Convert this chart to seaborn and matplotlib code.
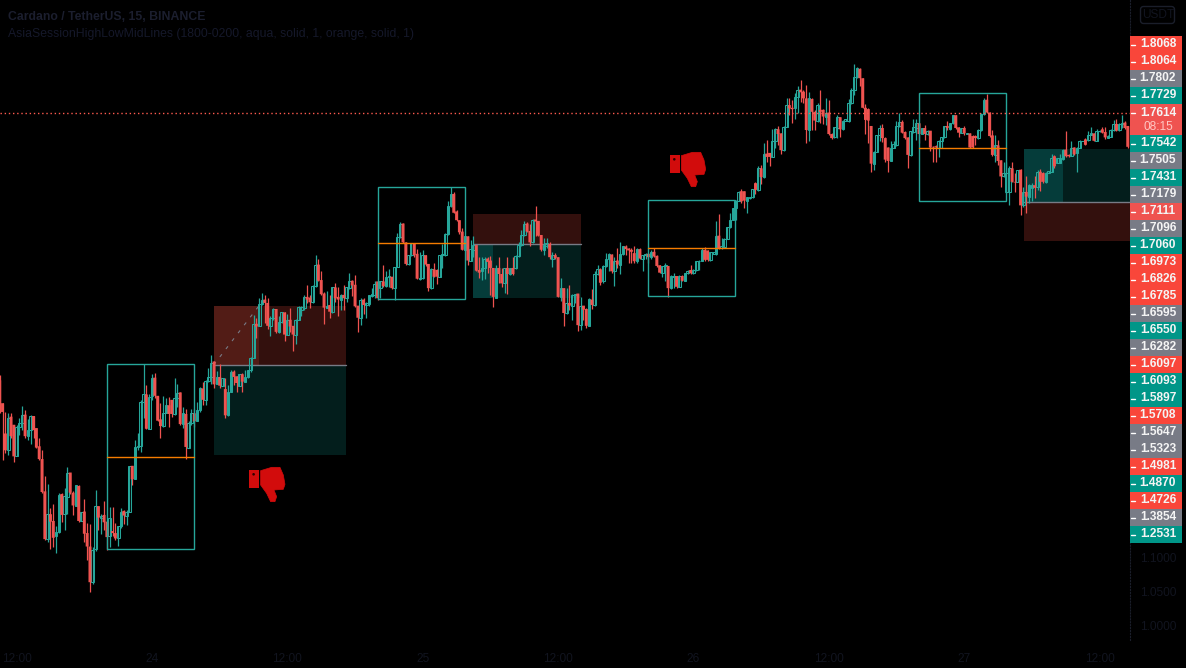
import numpy as np
import pandas as pd
import matplotlib
matplotlib.use("Agg")
import matplotlib.pyplot as plt
from matplotlib.patches import Rectangle, Polygon, Circle, FancyBboxPatch
import seaborn as sns

# 15 min candles
opens = [
1.364,1.330,1.285,1.260,1.310,1.298,1.252,1.294,1.301,1.313,
1.281,1.290,1.311,1.293,1.266,1.247,1.199,1.128,1.165,1.155,
1.133,1.138,1.195,1.166,1.191,1.227,1.197,1.177,1.207,1.155,
1.169,1.137,1.117,1.064,1.113,1.177,1.160,1.164,1.154,1.132,
1.140,1.137,1.129,1.148,1.170,1.163,1.169,1.237,1.218,1.265,
1.266,1.332,1.343,1.292,1.340,1.368,1.341,1.306,1.296,1.316,
1.327,1.335,1.314,1.337,1.346,1.299,1.314,1.264,1.300,1.315,
1.303,1.320,1.352,1.335,1.363,1.369,1.392,1.359,1.369,1.356,
1.351,1.312,1.346,1.377,1.370,1.355,1.373,1.362,1.369,1.379,
1.397,1.448,1.445,1.477,1.484,1.479,1.445,1.456,1.470,1.436,
1.451,1.465,1.432,1.454,1.445,1.432,1.454,1.469,1.471,1.488,
1.487,1.480,1.504,1.536,1.513,1.493,1.472,1.476,1.466,1.502,
1.488,1.484,1.491,1.486,1.501,1.512,1.506,1.475,1.457,1.484,
1.476,1.477,1.490,1.491,1.511,1.501,1.511,1.504,1.518,1.518,
1.501,1.533,1.577,1.597,1.569,1.537,1.550,1.568,1.552,1.515,
1.516,1.550,1.537,1.501,1.529,1.528,1.518,1.550,1.550,1.582,
1.623,1.641,1.615,1.602,1.585,1.558,1.578,1.542,1.558,1.565,
1.528,1.526,1.531,1.545,1.542,1.531,1.487,1.531,1.522,1.508,
1.531,1.522,1.531,1.531,1.549,1.565,1.580,1.597,1.586,1.569,
1.603,1.601,1.580,1.558,1.564,1.567,1.545,1.550,1.547,1.488,
1.501,1.464,1.479,1.475,1.491,1.493,1.446,1.475,1.470,1.445,
1.484,1.476,1.522,1.529,1.511,1.534,1.544,1.551,1.526,1.542,
1.536,1.551,1.563,1.560,1.558,1.553,1.541,1.559,1.545,1.550,
1.552,1.547,1.555,1.549,1.535,1.524,1.534,1.534,1.501,1.518,
1.519,1.503,1.519,1.512,1.524,1.528,1.523,1.528,1.541,1.542,
1.558,1.557,1.543,1.552,1.552,1.579,1.560,1.562,1.574,1.592,
1.602,1.620,1.631,1.645,1.645,1.631,1.635,1.636,1.657,1.647,
1.679,1.666,1.701,1.702,1.696,1.719,1.737,1.731,1.706,1.741,
1.773,1.769,1.768,1.785,1.796,1.793,1.783,1.736,1.782,1.763,
1.750,1.766,1.766,1.756,1.762,1.730,1.725,1.739,1.755,1.737,
1.750,1.750,1.776,1.796,1.815,1.827,1.813,1.769,1.767,1.742,
1.686,1.704,1.728,1.739,1.724,1.710,1.690,1.710,1.714,1.742,
1.748,1.733,1.725,1.699,1.733,1.739,1.746,1.730,1.739,1.730,
1.735,1.711,1.712,1.710,1.719,1.725,1.742,1.738,1.746,1.758,
1.740,1.732,1.739,1.730,1.731,1.727,1.727,1.724,1.736,1.760,
1.781,1.762,1.728,1.699,1.713,1.691,1.667,1.644,1.644,1.679,
1.659,1.659,1.677,1.624,1.644,1.637,1.650,1.654,1.652,1.674,
1.672,1.658,1.672,1.674,1.697,1.687,1.687,1.693,1.707,1.699,
1.698,1.710,1.702,1.710,1.719,1.722,1.721,1.729,1.731,1.720,
1.734,1.737,1.733,1.724,1.726,1.736,1.745,1.736,1.745,1.747,
1.742]

closes = [
1.317,1.317,1.260,1.308,1.281,1.251,1.294,1.301,1.313,1.281,
1.290,1.311,1.290,1.264,1.247,1.198,1.128,1.165,1.154,1.130,
1.139,1.194,1.164,1.192,1.227,1.197,1.178,1.208,1.155,1.169,
1.136,1.117,1.064,1.112,1.177,1.160,1.163,1.153,1.131,1.160,
1.137,1.129,1.148,1.169,1.163,1.169,1.237,1.217,1.265,1.266,
1.332,1.343,1.292,1.339,1.368,1.341,1.304,1.296,1.316,1.327,
1.314,1.314,1.337,1.345,1.299,1.315,1.265,1.300,1.315,1.303,
1.320,1.352,1.335,1.363,1.369,1.390,1.358,1.369,1.356,1.367,
1.312,1.346,1.377,1.369,1.360,1.373,1.362,1.369,1.379,1.397,
1.448,1.444,1.477,1.484,1.479,1.445,1.456,1.470,1.436,1.451,
1.465,1.432,1.454,1.444,1.432,1.454,1.473,1.473,1.488,1.484,
1.480,1.504,1.536,1.512,1.492,1.472,1.474,1.466,1.502,1.486,
1.484,1.491,1.486,1.502,1.512,1.505,1.474,1.457,1.484,1.476,
1.479,1.491,1.492,1.507,1.486,1.511,1.504,1.518,1.519,1.501,
1.533,1.577,1.597,1.569,1.537,1.550,1.568,1.550,1.515,1.516,
1.550,1.536,1.501,1.529,1.518,1.518,1.550,1.551,1.582,1.623,
1.641,1.613,1.602,1.584,1.558,1.578,1.542,1.559,1.565,1.527,
1.524,1.531,1.545,1.540,1.531,1.488,1.531,1.522,1.508,1.531,
1.522,1.531,1.522,1.549,1.565,1.580,1.597,1.585,1.569,1.603,
1.600,1.579,1.558,1.565,1.568,1.547,1.550,1.546,1.488,1.501,
1.464,1.479,1.475,1.491,1.493,1.446,1.475,1.469,1.445,1.485,
1.476,1.522,1.529,1.509,1.534,1.544,1.551,1.526,1.542,1.536,
1.551,1.563,1.559,1.557,1.555,1.541,1.559,1.545,1.550,1.552,
1.547,1.555,1.548,1.534,1.524,1.534,1.535,1.501,1.519,1.519,
1.503,1.519,1.512,1.524,1.526,1.523,1.528,1.542,1.542,1.558,
1.543,1.543,1.554,1.554,1.579,1.560,1.563,1.574,1.592,1.602,
1.620,1.631,1.644,1.630,1.631,1.636,1.636,1.648,1.647,1.679,
1.666,1.701,1.696,1.696,1.720,1.737,1.730,1.706,1.741,1.773,
1.768,1.767,1.785,1.796,1.792,1.783,1.736,1.783,1.763,1.750,
1.773,1.763,1.756,1.762,1.730,1.724,1.740,1.755,1.737,1.750,
1.752,1.776,1.796,1.815,1.828,1.813,1.769,1.751,1.750,1.686,
1.704,1.729,1.739,1.724,1.692,1.690,1.710,1.715,1.742,1.748,
1.732,1.724,1.699,1.734,1.740,1.746,1.730,1.739,1.730,1.735,
1.710,1.710,1.710,1.720,1.725,1.742,1.739,1.746,1.758,1.739,
1.732,1.739,1.731,1.731,1.710,1.710,1.724,1.736,1.760,1.781,
1.762,1.727,1.699,1.713,1.690,1.667,1.672,1.672,1.679,1.659,
1.658,1.676,1.624,1.644,1.637,1.654,1.654,1.650,1.674,1.659,
1.659,1.672,1.675,1.694,1.682,1.694,1.694,1.707,1.697,1.697,
1.710,1.700,1.710,1.720,1.720,1.714,1.729,1.731,1.720,1.734,
1.735,1.732,1.725,1.727,1.736,1.745,1.735,1.745,1.746,1.739,
1.711]

highs = [
1.372,1.330,1.317,1.315,1.316,1.298,1.298,1.308,1.326,1.320,
1.306,1.313,1.311,1.293,1.279,1.260,1.222,1.210,1.174,1.180,
1.147,1.196,1.196,1.204,1.235,1.227,1.199,1.208,1.208,1.169,
1.188,1.152,1.151,1.117,1.201,1.177,1.166,1.185,1.154,1.176,
1.176,1.152,1.148,1.175,1.171,1.171,1.237,1.237,1.275,1.285,
1.335,1.389,1.357,1.343,1.373,1.375,1.341,1.330,1.340,1.337,
1.339,1.335,1.368,1.359,1.347,1.325,1.321,1.303,1.322,1.322,
1.332,1.354,1.362,1.364,1.383,1.402,1.392,1.378,1.389,1.367,
1.367,1.357,1.379,1.379,1.370,1.373,1.375,1.379,1.380,1.399,
1.461,1.456,1.486,1.494,1.491,1.486,1.459,1.471,1.470,1.459,
1.466,1.466,1.463,1.471,1.445,1.455,1.475,1.474,1.491,1.506,
1.491,1.506,1.550,1.545,1.526,1.495,1.497,1.491,1.503,1.508,
1.502,1.493,1.506,1.502,1.523,1.513,1.521,1.475,1.486,1.486,
1.481,1.491,1.501,1.511,1.511,1.511,1.536,1.526,1.530,1.518,
1.533,1.583,1.600,1.598,1.570,1.550,1.568,1.568,1.559,1.555,
1.558,1.550,1.537,1.531,1.538,1.529,1.550,1.567,1.583,1.630,
1.652,1.644,1.617,1.603,1.591,1.579,1.579,1.572,1.579,1.565,
1.548,1.547,1.547,1.548,1.549,1.531,1.536,1.548,1.531,1.531,
1.548,1.531,1.548,1.550,1.570,1.588,1.601,1.600,1.597,1.604,
1.623,1.601,1.580,1.575,1.575,1.570,1.555,1.553,1.548,1.516,
1.501,1.501,1.506,1.492,1.493,1.493,1.488,1.475,1.471,1.486,
1.500,1.526,1.536,1.531,1.536,1.553,1.553,1.551,1.548,1.560,
1.570,1.563,1.565,1.560,1.560,1.564,1.560,1.560,1.550,1.553,
1.553,1.557,1.560,1.550,1.536,1.534,1.538,1.534,1.521,1.523,
1.519,1.521,1.521,1.524,1.528,1.536,1.529,1.542,1.543,1.560,
1.562,1.558,1.554,1.555,1.601,1.611,1.575,1.575,1.592,1.612,
1.620,1.632,1.646,1.648,1.646,1.637,1.637,1.649,1.658,1.683,
1.684,1.716,1.721,1.702,1.737,1.739,1.742,1.732,1.742,1.784,
1.784,1.780,1.791,1.801,1.811,1.795,1.803,1.792,1.783,1.766,
1.776,1.795,1.767,1.783,1.781,1.731,1.741,1.758,1.756,1.751,
1.752,1.782,1.798,1.834,1.829,1.828,1.814,1.775,1.768,1.742,
1.705,1.729,1.743,1.745,1.725,1.711,1.720,1.719,1.750,1.761,
1.751,1.735,1.725,1.735,1.752,1.752,1.747,1.739,1.743,1.736,
1.735,1.712,1.714,1.721,1.726,1.742,1.749,1.747,1.759,1.759,
1.741,1.739,1.742,1.731,1.732,1.729,1.729,1.737,1.761,1.784,
1.790,1.763,1.736,1.729,1.721,1.692,1.689,1.689,1.682,1.688,
1.672,1.677,1.678,1.652,1.667,1.656,1.657,1.667,1.677,1.678,
1.673,1.674,1.675,1.700,1.699,1.694,1.700,1.708,1.735,1.700,
1.719,1.711,1.711,1.721,1.720,1.724,1.734,1.741,1.732,1.737,
1.736,1.741,1.741,1.728,1.737,1.751,1.752,1.746,1.758,1.749,
1.742]

lows = [
1.315,1.246,1.256,1.253,1.279,1.243,1.251,1.283,1.290,1.278,
1.275,1.269,1.279,1.263,1.246,1.196,1.127,1.124,1.114,1.117,
1.107,1.137,1.154,1.142,1.166,1.195,1.164,1.177,1.154,1.155,
1.124,1.097,1.050,1.062,1.110,1.142,1.136,1.142,1.112,1.117,
1.132,1.127,1.118,1.144,1.151,1.149,1.169,1.208,1.218,1.260,
1.258,1.308,1.292,1.292,1.335,1.337,1.303,1.279,1.295,1.315,
1.294,1.310,1.312,1.325,1.298,1.293,1.247,1.263,1.298,1.295,
1.303,1.317,1.327,1.327,1.362,1.359,1.352,1.359,1.352,1.355,
1.308,1.311,1.346,1.357,1.346,1.355,1.346,1.362,1.367,1.377,
1.397,1.427,1.445,1.476,1.449,1.441,1.430,1.454,1.434,1.434,
1.449,1.423,1.431,1.436,1.407,1.418,1.453,1.460,1.469,1.479,
1.471,1.479,1.503,1.511,1.491,1.448,1.471,1.456,1.464,1.481,
1.460,1.469,1.469,1.481,1.499,1.489,1.473,1.436,1.446,1.463,
1.457,1.474,1.488,1.486,1.484,1.486,1.503,1.503,1.503,1.499,
1.484,1.532,1.575,1.568,1.536,1.536,1.549,1.547,1.514,1.513,
1.514,1.534,1.497,1.500,1.517,1.507,1.517,1.531,1.549,1.580,
1.622,1.612,1.601,1.582,1.557,1.557,1.536,1.542,1.548,1.526,
1.516,1.513,1.514,1.523,1.491,1.473,1.486,1.508,1.503,1.494,
1.493,1.521,1.521,1.530,1.548,1.564,1.579,1.584,1.563,1.568,
1.578,1.578,1.556,1.550,1.560,1.544,1.533,1.545,1.488,1.482,
1.444,1.463,1.469,1.453,1.479,1.437,1.439,1.454,1.442,1.444,
1.470,1.475,1.521,1.506,1.509,1.533,1.526,1.523,1.504,1.531,
1.522,1.550,1.550,1.538,1.539,1.539,1.539,1.544,1.526,1.544,
1.539,1.545,1.547,1.533,1.523,1.517,1.511,1.488,1.500,1.501,
1.501,1.502,1.511,1.511,1.522,1.522,1.522,1.527,1.528,1.541,
1.542,1.542,1.542,1.551,1.550,1.559,1.559,1.560,1.574,1.591,
1.602,1.602,1.630,1.628,1.620,1.612,1.634,1.635,1.641,1.646,
1.656,1.665,1.688,1.683,1.696,1.709,1.714,1.700,1.705,1.740,
1.758,1.746,1.752,1.761,1.778,1.776,1.716,1.719,1.736,1.736,
1.748,1.746,1.745,1.743,1.729,1.723,1.724,1.724,1.726,1.736,
1.750,1.748,1.775,1.788,1.814,1.801,1.768,1.730,1.716,1.673,
1.677,1.704,1.719,1.718,1.689,1.674,1.690,1.709,1.712,1.741,
1.731,1.723,1.679,1.697,1.732,1.721,1.717,1.730,1.721,1.729,
1.705,1.689,1.689,1.696,1.709,1.724,1.736,1.736,1.745,1.737,
1.725,1.732,1.729,1.730,1.709,1.709,1.714,1.722,1.735,1.758,
1.761,1.726,1.697,1.689,1.684,1.652,1.666,1.643,1.625,1.658,
1.644,1.658,1.609,1.622,1.612,1.627,1.630,1.635,1.647,1.645,
1.657,1.657,1.672,1.674,1.679,1.687,1.687,1.692,1.696,1.696,
1.697,1.699,1.673,1.709,1.719,1.713,1.720,1.728,1.719,1.719,
1.733,1.731,1.723,1.724,1.725,1.735,1.734,1.735,1.739,1.737,
1.710]

# session boxes: start, end, top, bottom, mid
box_start = [37.9, 134.0, 229.8, 325.9]
box_end = [68.8, 164.9, 260.6, 356.7]
box_top = [1.388, 1.651, 1.632, 1.791]
box_bottom = [1.113, 1.485, 1.489, 1.630]
box_mid = [1.250, 1.568, 1.561, 1.709]

# long/short position tools
pos_start = [75.9, 167.7, 363.1]
pos_end = [122.7, 206.0, 400.8]
pos_filled = [91.8, 174.8, 377.0]
pos_red_top = [1.474, 1.611, 1.629]
pos_red_bottom = [1.387, 1.567, 1.571]
pos_green_top = [1.387, 1.567, 1.708]
pos_green_bottom = [1.253, 1.486, 1.629]

last_price = 1.7614

x_tick_pos = [6, 54, 102, 150, 198, 246, 294, 342, 390]
x_tick_labels = ["12:00", "24", "12:00", "25", "12:00", "26", "12:00", "27", "12:00"]
y_tick_pos = [1.0, 1.05, 1.1]
y_tick_labels = ["1.0000", "1.0500", "1.1000"]

tag_labels = ["1.8068", "1.8064", "1.7802", "1.7729", "1.7542", "1.7505", "1.7431", "1.7179",
              "1.7111", "1.7096", "1.7060", "1.6973", "1.6826", "1.6785", "1.6595", "1.6550",
              "1.6282", "1.6097", "1.6093", "1.5897", "1.5708", "1.5647", "1.5323", "1.4981",
              "1.4870", "1.4726", "1.3854", "1.2531"]
RED, GREY, TEAL, SOFT = "#f9463a", "#787b86", "#009688", "#ef5350"
tag_colors = [RED, RED, GREY, TEAL, TEAL, GREY, TEAL, GREY, SOFT, GREY, TEAL, RED, RED, RED,
              GREY, TEAL, GREY, RED, TEAL, TEAL, RED, GREY, GREY, RED, TEAL, RED, GREY, TEAL]

sns.set_theme(style="dark", rc={"figure.facecolor": "black", "axes.facecolor": "black"})
plt.rcParams["font.family"] = ["Liberation Sans", "DejaVu Sans"]

UP, DOWN, DIM = "#26a69a", "#ef5350", "#11141f"

df = pd.DataFrame({"open": opens, "high": highs, "low": lows, "close": closes})
df["i"] = np.arange(len(df))
df["up"] = df["close"] >= df["open"]
df["wick"] = np.where(df["up"], UP, DOWN)

fig = plt.figure(figsize=(11.86, 6.68), dpi=100)
ax = fig.add_axes([0, 28 / 668, 1130 / 1186, 640 / 668])
ax.set_xlim(0.1, 400.8)
ax.set_ylim(0.9781, 1.9292)

# position zones sit under the candles
for k in range(3):
    w = pos_end[k] - pos_start[k]
    hr = pos_red_top[k] - pos_red_bottom[k]
    hg = pos_green_top[k] - pos_green_bottom[k]
    ax.add_patch(Rectangle((pos_start[k], pos_red_bottom[k]), w, hr, fc="#33100d", ec="none", zorder=1))
    ax.add_patch(Rectangle((pos_start[k], pos_green_bottom[k]), w, hg, fc="#031e1c", ec="none", zorder=1))
    fw = pos_filled[k] - pos_start[k]
    if k == 0:
        ax.add_patch(Rectangle((pos_start[k], pos_red_bottom[k]), fw, hr, fc="#521c16", ec="none", zorder=1.1))
        ax.plot([pos_start[k], pos_filled[k]], [pos_red_bottom[k], pos_red_top[k]],
                color=GREY, lw=0.8, ls=(0, (3, 6)), zorder=1.2)
    else:
        ax.add_patch(Rectangle((pos_start[k], pos_green_bottom[k]), fw, hg, fc="#053c3a", ec="none", zorder=1.1))
    line_y = pos_green_top[k] if k < 2 else pos_green_bottom[k]
    sns.lineplot(x=[pos_start[k], pos_end[k]], y=[line_y, line_y], color=GREY, lw=1.0, ax=ax, zorder=1.5)

# candles
ax.vlines(df["i"], df["low"], df["high"], colors=df["wick"], lw=0.9, zorder=3)
bull = df[df["up"]]
bear = df[~df["up"]]
ax.bar(bull["i"], (bull["close"] - bull["open"]).clip(lower=0.0008), bottom=bull["open"], width=0.95,
       facecolor="none", edgecolor=UP, linewidth=0.75, zorder=3.2)
ax.bar(bear["i"], (bear["open"] - bear["close"]).clip(lower=0.0008), bottom=bear["close"], width=1.05,
       facecolor=DOWN, edgecolor="none", zorder=3.4, snap=False)

# asia session boxes
for k in range(4):
    ax.add_patch(Rectangle((box_start[k], box_bottom[k]), box_end[k] - box_start[k], box_top[k] - box_bottom[k],
                           fill=False, ec=UP, lw=1.0, zorder=4))
    sns.lineplot(x=[box_start[k], box_end[k]], y=[box_mid[k], box_mid[k]], color="#f57c00", lw=1.0, ax=ax, zorder=4)

sns.lineplot(x=[0.1, 400.8], y=[last_price, last_price], color="#ff5a4f", lw=1.0, ax=ax, zorder=5,
             linestyle=(0, (1, 2)))

ax.set_xlabel("")
ax.set_ylabel("")
ax.grid(False)
ax.set_xticks(x_tick_pos)
ax.set_xticklabels(x_tick_labels, fontsize=8.6, color=DIM)
ax.yaxis.tick_right()
ax.set_yticks(y_tick_pos)
ax.set_yticklabels(y_tick_labels, fontsize=8.6, color=DIM)
ax.tick_params(axis="x", length=3, color=DIM, pad=6)
ax.tick_params(axis="y", length=0, pad=7.5)
for s in ["top", "left", "bottom"]:
    ax.spines[s].set_visible(False)
ax.spines["right"].set_color("#1a1e2a")
ax.spines["right"].set_linewidth(0.8)
ax.spines["right"].set_linestyle(":")

# overlay in pixel coordinates for price tags, legend and icons
ov = fig.add_axes([0, 0, 1, 1])
ov.set_xlim(0, 1186)
ov.set_ylim(668, 0)
ov.axis("off")
ov.patch.set_alpha(0)

ov.text(8, 17, "Cardano / TetherUS, 15, BINANCE", color="#1b1e2e", fontsize=8.8, fontweight="bold", va="center")
ov.text(8, 33.5, "AsiaSessionHighLowMidLines (1800-0200, aqua, solid, 1, orange, solid, 1)",
        color="#15182a", fontsize=8.8, va="center")

ov.add_patch(FancyBboxPatch((1142, 8), 31, 14, boxstyle="round,pad=1.5,rounding_size=3", fc="black",
                            ec="#1a1e2a", lw=1))
ov.text(1158, 15.5, "USDT", color=DIM, fontsize=8.6, ha="center", va="center")


def price_tag(y, label, color):
    ov.add_patch(Rectangle((1130, y - 8.3), 52, 16.6, fc=color, ec="none"))
    ov.plot([1131, 1135], [y, y], color="white", lw=1)
    ov.text(1158, y - 0.2, label, color="#f4f4f4", fontsize=8.6, fontweight="bold", ha="center", va="center")


tag_y = 44.6
for lab, col in zip(tag_labels, tag_colors):
    if lab == "1.7542":
        tag_y += 31  # room for the live price tag
    price_tag(tag_y, lab, col)
    tag_y += 17

# live price tag with countdown
ov.add_patch(Rectangle((1130, 104), 52, 31, fc=SOFT, ec="none"))
ov.plot([1131, 1135], [113, 113], color="white", lw=1)
ov.text(1158, 112.5, "1.7614", color="#f4f4f4", fontsize=8.6, fontweight="bold", ha="center", va="center")
ov.text(1158, 127, "08:15", color="#ffc6c2", fontsize=8.6, ha="center", va="center")

hand = [(34, 2), (67, -8), (92, -8), (102, 15), (107, 43), (102, 58), (74, 60), (82, 80), (77, 95),
        (64, 95), (52, 70), (34, 45)]


def thumb_down(px, py):
    col = "#d20c0c"
    ov.add_patch(Rectangle((px, py), 10, 17.5, fc=col, ec="none"))
    ov.add_patch(Circle((px + 4.3, py + 4.3), 1.3, fc="#300000", ec="none"))
    pts = [(px + a / 3, py + b / 3) for a, b in hand]
    ov.add_patch(Polygon(pts, closed=True, fc=col, ec=col, lw=0.5))


thumb_down(249.3, 470)
thumb_down(670, 155)

fig.savefig("out.png", dpi=100, facecolor="black")
